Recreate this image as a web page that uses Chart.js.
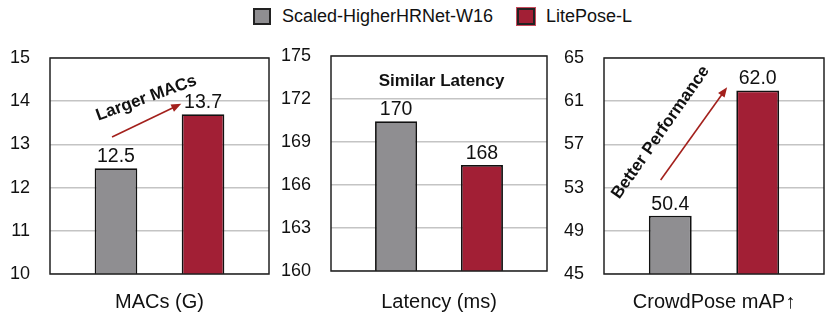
<!DOCTYPE html>
<html>
<head>
<meta charset="utf-8">
<script src="https://cdn.jsdelivr.net/npm/chart.js@4.4.1/dist/chart.umd.min.js"></script>
<style>
  body { margin: 0; background: #fff; width: 832px; height: 322px; position: relative; overflow: hidden;
         font-family: "Liberation Sans", Arial, sans-serif; color: #111; }
  canvas { position: absolute; top: 0; }
  .item { position: absolute; top: 7px; height: 18px; display: flex; align-items: center; font-size: 18px; line-height: 18px; }
  .sw { width: 18px; height: 17px; box-sizing: border-box; border: 2px solid #222; margin-right: 11px; }
</style>
</head>
<body>
<div class="item" style="left:253px"><span class="sw" id="sw0"></span><span id="lg0"></span></div>
<div class="item" style="left:517px"><span class="sw" id="sw1" style="box-shadow:0 0 0 1px #c84a5c"></span><span id="lg1"></span></div>
<canvas id="macsChart" width="275" height="322" style="left:0"></canvas>
<canvas id="latencyChart" width="280" height="322" style="left:275px"></canvas>
<canvas id="mapChart" width="277" height="322" style="left:555px"></canvas>
<script>
// Data
const seriesNames = ["Scaled-HigherHRNet-W16", "LitePose-L"];
const seriesColors = ["#8f8e91", "#a21f35"];
const metricNames = ["MACs (G)", "Latency (ms)", "CrowdPose mAP\u2191"];

const macsValues = [12.45, 13.7];
const macsLabels = ["12.5", "13.7"];
const macsTicks = [10, 11, 12, 13, 14, 15];

const latencyValues = [170.45, 167.4];
const latencyLabels = ["170", "168"];
const latencyTicks = [160, 163, 166, 169, 172, 175];

const mapValues = [50.4, 62.0];
const mapLabels = ["50.4", "62.0"];
const mapTicks = [45, 49, 53, 57, 61, 65];

const FONT = "'Liberation Sans', Arial, sans-serif";

// legend (html)
seriesNames.forEach((name, i) => {
  document.getElementById("lg" + i).textContent = name;
  document.getElementById("sw" + i).style.background = seriesColors[i];
});

// frame, value labels, arrows and notes
const extras = {
  id: "extras",
  afterDatasetsDraw(chart, args, opts) {
    const ctx = chart.ctx;
    const area = chart.chartArea;
    const yScale = chart.scales.y;
    const a = chart.getDatasetMeta(0).data[0];
    const b = chart.getDatasetMeta(1).data[0];
    const xAt = (f) => a.x + (b.x - a.x) * f;

    ctx.save();
    ctx.strokeStyle = "#222";
    ctx.lineWidth = 1.5;
    ctx.strokeRect(area.left, area.top, area.right - area.left, area.bottom - area.top);

    ctx.font = "19.5px " + FONT;
    ctx.fillStyle = "#111";
    ctx.textAlign = "center";
    ctx.textBaseline = "alphabetic";
    [a, b].forEach((bar, i) => ctx.fillText(opts.labels[i], bar.x, bar.y - 6));

    if (opts.arrow) {
      const x1 = xAt(opts.arrow[0]), y1 = yScale.getPixelForValue(opts.arrow[1]);
      const x2 = xAt(opts.arrow[2]), y2 = yScale.getPixelForValue(opts.arrow[3]);
      const ang = Math.atan2(y2 - y1, x2 - x1);
      ctx.strokeStyle = "#a3201c";
      ctx.fillStyle = "#a3201c";
      ctx.lineWidth = 1.6;
      ctx.beginPath();
      ctx.moveTo(x1, y1);
      ctx.lineTo(x2 - 8 * Math.cos(ang), y2 - 8 * Math.sin(ang));
      ctx.stroke();
      ctx.beginPath();
      ctx.moveTo(x2, y2);
      ctx.lineTo(x2 - 10 * Math.cos(ang) + 4 * Math.sin(ang), y2 - 10 * Math.sin(ang) - 4 * Math.cos(ang));
      ctx.lineTo(x2 - 10 * Math.cos(ang) - 4 * Math.sin(ang), y2 - 10 * Math.sin(ang) + 4 * Math.cos(ang));
      ctx.closePath();
      ctx.fill();
    }

    if (opts.note) {
      ctx.translate(xAt(opts.note.at[0]), yScale.getPixelForValue(opts.note.at[1]));
      ctx.rotate(opts.note.angle * Math.PI / 180);
      ctx.font = "bold 17px " + FONT;
      ctx.fillStyle = "#111";
      ctx.textBaseline = "middle";
      ctx.fillText(opts.note.text, 0, 0);
    }
    ctx.restore();
  },
};

function makePanel(id, title, values, labels, ticks, box, extra) {
  new Chart(document.getElementById(id), {
    type: "bar",
    data: {
      labels: [title],
      datasets: seriesNames.map((name, i) => ({
        label: name,
        data: [values[i]],
        backgroundColor: seriesColors[i],
        borderColor: "#111",
        borderWidth: 1.8,
        borderSkipped: false,
        categoryPercentage: 0.795,
        barPercentage: 0.49,
      })),
    },
    plugins: [extras],
    options: {
      responsive: false,
      animation: false,
      devicePixelRatio: 1,
      layout: { padding: { top: box.top, right: box.right, left: 0, bottom: 0 } },
      plugins: {
        legend: { display: false },
        tooltip: { enabled: false },
        extras: Object.assign({ labels: labels }, extra),
      },
      scales: {
        x: {
          grid: { display: false },
          border: { display: false },
          ticks: { display: false },
          title: { display: true, text: title, color: "#111", font: { size: 20, family: FONT }, padding: { top: 0, bottom: 8 } },
          afterFit: (s) => { s.height = 322 - box.bottom; },
        },
        y: {
          min: ticks[0],
          max: ticks[ticks.length - 1],
          ticks: { stepSize: ticks[1] - ticks[0], padding: 20, color: "#111", font: { size: 18, family: FONT } },
          grid: { color: "#c4c4c4", lineWidth: 1.5, drawTicks: false },
          border: { display: false },
          afterFit: (s) => { s.width = box.axis; },
        },
      },
    },
  });
}

makePanel("macsChart", metricNames[0], macsValues, macsLabels, macsTicks,
  { top: 58, bottom: 274, axis: 50, right: 6 },
  { arrow: [-0.045, 13.17, 0.75, 13.94], note: { text: "Larger MACs", at: [0.35, 14.07], angle: -20 } });

makePanel("latencyChart", metricNames[1], latencyValues, latencyLabels, latencyTicks,
  { top: 56, bottom: 271, axis: 56, right: 8 },
  { note: { text: "Similar Latency", at: [0.53, 173.2], angle: 0 } });

makePanel("mapChart", metricNames[2], mapValues, mapLabels, mapTicks,
  { top: 58, bottom: 274, axis: 49, right: 8 },
  { arrow: [-0.11, 53.7, 0.65, 62.3], note: { text: "Better Performance", at: [-0.11, 58.1], angle: -55 } });
</script>
</body>
</html>
